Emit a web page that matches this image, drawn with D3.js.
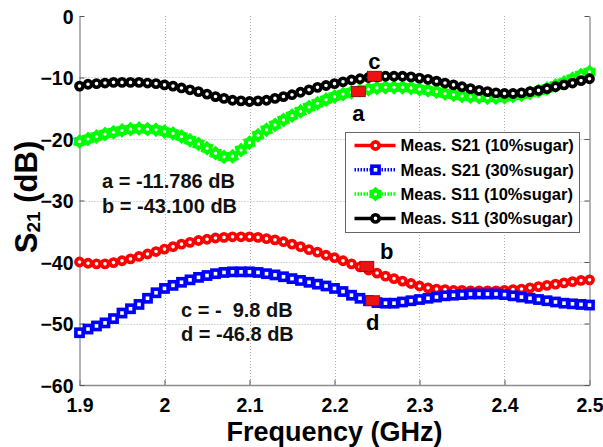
<!DOCTYPE html>
<html>
<head>
<meta charset="utf-8">
<script src="https://cdn.jsdelivr.net/npm/d3@7"></script>
<style>
  body { margin: 0; background: #fff; }
  text { font-family: Arial, "Liberation Sans", sans-serif; }
</style>
</head>
<body>
<svg id="chart" width="603" height="447"></svg>
<script>
// frequency points, GHz (step 0.01)
var freq = d3.range(61).map(function(i) { return +(1.9 + i * 0.01).toFixed(2); });

var s21_10 = [-40.0, -40.2, -40.3, -40.3, -40.1, -39.8, -39.5, -39.1, -38.7, -38.3,
  -37.9, -37.5, -37.1, -36.8, -36.5, -36.3, -36.1, -36.0, -35.9, -35.9,
  -35.9, -36.0, -36.2, -36.4, -36.7, -37.1, -37.5, -38.0, -38.4, -38.9,
  -39.3, -39.8, -40.3, -40.8, -41.3, -41.8, -42.3, -42.7, -43.1, -43.5,
  -43.9, -44.2, -44.4, -44.5, -44.6, -44.6, -44.7, -44.7, -44.7, -44.7,
  -44.6, -44.5, -44.4, -44.2, -44.0, -43.8, -43.6, -43.4, -43.2, -43.0, -42.9];

var s21_30 = [-51.5, -50.9, -50.4, -49.9, -49.2, -48.3, -47.6, -46.9, -45.9, -45.0,
  -44.3, -43.8, -43.3, -42.9, -42.5, -42.2, -41.9, -41.7, -41.6, -41.6,
  -41.6, -41.7, -41.9, -42.1, -42.4, -42.7, -43.0, -43.3, -43.6, -43.9,
  -44.3, -44.8, -45.4, -45.9, -46.3, -46.6, -46.7, -46.7, -46.5, -46.3,
  -46.1, -45.9, -45.7, -45.5, -45.4, -45.3, -45.2, -45.2, -45.2, -45.2,
  -45.3, -45.5, -45.7, -45.9, -46.1, -46.3, -46.5, -46.7, -46.8, -46.9, -47.0];

var s11_10 = [-20.4, -20.0, -19.6, -19.2, -18.9, -18.6, -18.4, -18.3, -18.4, -18.5,
  -18.8, -19.1, -19.6, -20.2, -20.8, -21.5, -22.3, -22.9, -22.8, -21.8,
  -20.6, -19.4, -18.5, -17.7, -16.9, -16.2, -15.5, -14.8, -14.2, -13.6,
  -13.1, -12.7, -12.4, -12.1, -11.9, -11.7, -11.6, -11.6, -11.6, -11.7,
  -11.9, -12.1, -12.3, -12.6, -12.8, -13.0, -13.1, -13.2, -13.3, -13.3,
  -13.2, -13.0, -12.8, -12.5, -12.2, -11.8, -11.3, -10.8, -10.2, -9.6, -9.1];

var s11_30 = [-11.4, -11.1, -11.0, -10.9, -10.8, -10.8, -10.8, -10.8, -10.9, -11.0,
  -11.2, -11.4, -11.7, -12.0, -12.3, -12.7, -13.1, -13.4, -13.7, -13.8,
  -13.9, -13.8, -13.7, -13.4, -13.1, -12.8, -12.4, -12.0, -11.6, -11.3,
  -11.0, -10.7, -10.4, -10.2, -10.0, -9.9, -9.8, -9.8, -9.8, -9.9,
  -10.1, -10.3, -10.6, -10.9, -11.2, -11.5, -11.8, -12.1, -12.3, -12.5,
  -12.6, -12.6, -12.5, -12.3, -12.1, -11.8, -11.5, -11.2, -10.9, -10.5, -10.2];

var seriesNames = ["Meas. S21 (10%sugar)", "Meas. S21 (30%sugar)", "Meas. S11 (10%sugar)", "Meas. S11 (30%sugar)"];
var seriesColors = ["#ff0000", "#0000ff", "#00ff00", "#000000"];
var seriesMarkers = ["circle", "square", "hexagram", "circle"];
var seriesDash = [null, "1.5,1.5", "1.5,1.5", null];

// data cursors
var cursorNames = ["a", "b", "c", "d"];
var cursorX = [2.228, 2.238, 2.247, 2.245];
var cursorY = [-12.3, -40.7, -9.8, -46.3];

var notes = ["a = -11.786 dB", "b = -43.100 dB", "c = -\u00a0\u00a09.8 dB", "d = -46.8 dB"];

var xTicks = [1.9, 2, 2.1, 2.2, 2.3, 2.4, 2.5];
var yTicks = [0, -10, -20, -30, -40, -50, -60];

var svg = d3.select("#chart");
var x = d3.scaleLinear().domain([1.9, 2.5]).range([79.5, 589.5]);
var y = d3.scaleLinear().domain([-60, 0]).range([385, 16]);

// grid
var grid = svg.append("g").attr("stroke", "#b0b0b0").attr("stroke-width", 1).attr("stroke-dasharray", "1,2");
grid.selectAll(".gx").data(xTicks.slice(1, -1)).enter().append("line")
  .attr("x1", function(d) { return Math.round(x(d)) + 0.5; })
  .attr("x2", function(d) { return Math.round(x(d)) + 0.5; })
  .attr("y1", y(0)).attr("y2", y(-60));
grid.selectAll(".gy").data(yTicks.slice(1, -1)).enter().append("line")
  .attr("y1", function(d) { return Math.round(y(d)) + 0.5; })
  .attr("y2", function(d) { return Math.round(y(d)) + 0.5; })
  .attr("x1", x(1.9)).attr("x2", x(2.5));

// axes
var xAxis = svg.append("g").attr("transform", "translate(0," + y(-60) + ")")
  .call(d3.axisBottom(x).tickValues(xTicks).tickSizeInner(-5).tickSizeOuter(0).tickPadding(13)
    .tickFormat(function(d) { return d3.format("")(d); }));
var yAxis = svg.append("g").attr("transform", "translate(" + x(1.9) + ",0)")
  .call(d3.axisLeft(y).tickValues(yTicks).tickSizeInner(-5).tickSizeOuter(0).tickPadding(6));
var yAxisR = svg.append("g").attr("transform", "translate(" + x(2.5) + ",0)")
  .call(d3.axisRight(y).tickValues(yTicks).tickSizeInner(-5).tickSizeOuter(0).tickFormat(""));
[xAxis, yAxis, yAxisR].forEach(function(a) {
  a.select(".domain").attr("stroke", "#8c8c8c").attr("stroke-width", 1.3);
  a.selectAll(".tick line").attr("stroke", "#555");
  a.selectAll("text").attr("fill", "#000").style("font-size", "19.5px").style("font-weight", "bold")
    .style("font-family", "Arial, 'Liberation Sans', sans-serif");
});
yAxis.selectAll("text").attr("dy", "0.36em");

// marker shapes
function hexagram(R, r) {
  var pts = [];
  for (var i = 0; i < 12; i++) {
    var a = Math.PI / 6 * i - Math.PI / 2;
    var rad = i % 2 ? r : R;
    pts.push([rad * Math.cos(a), rad * Math.sin(a)]);
  }
  return "M" + pts.join("L") + "Z";
}

function drawMarker(g, kind, color) {
  if (kind == "circle") {
    g.append("circle").attr("r", 3.6).attr("fill", "#fff").attr("stroke", color).attr("stroke-width", 3.6);
  } else if (kind == "square") {
    g.append("rect").attr("x", -3.6).attr("y", -3.6).attr("width", 7.2).attr("height", 7.2)
      .attr("fill", "#fff").attr("stroke", color).attr("stroke-width", 3.6);
  } else {
    g.append("path").attr("d", hexagram(6.6, 4.8)).attr("fill", color).attr("stroke", color).attr("stroke-width", 1.2);
    g.append("circle").attr("r", 1.6).attr("fill", "#fff");
  }
}

var allSeries = [s21_10, s21_30, s11_10, s11_30];
var line = d3.line().x(function(d, i) { return x(freq[i]); }).y(function(d) { return y(d); });

allSeries.forEach(function(vals, k) {
  var g = svg.append("g");
  g.append("path").datum(vals).attr("d", line).attr("fill", "none")
    .attr("stroke", seriesColors[k]).attr("stroke-width", 3)
    .attr("stroke-dasharray", seriesDash[k]);
  g.selectAll(".m").data(vals).enter().append("g")
    .attr("transform", function(d, i) { return "translate(" + x(freq[i]) + "," + y(d) + ")"; })
    .each(function() { drawMarker(d3.select(this), seriesMarkers[k], seriesColors[k]); });
});

// cursors
var cur = svg.append("g");
cursorNames.forEach(function(n, i) {
  var cx = x(cursorX[i]), cy = y(cursorY[i]);
  cur.append("rect").attr("x", cx - 7).attr("y", cy - 5).attr("width", 14).attr("height", 10)
    .attr("fill", "#ee1111").attr("stroke", "#8a0000").attr("stroke-width", 0.8);
  var dx = (n == "b") ? 20 : 0;
  var dy = (n == "c" || n == "b") ? -15 : 22;
  cur.append("text").attr("x", cx + dx).attr("y", cy + dy)
    .attr("text-anchor", "middle").attr("dominant-baseline", "central")
    .style("font-size", "22px").style("font-weight", "bold").text(n);
});

// annotation text
var noteX = [102, 102, 181, 181];
var noteY = [188, 213, 317, 341];
notes.forEach(function(t, i) {
  svg.append("text").attr("x", noteX[i]).attr("y", noteY[i])
    .style("font-size", "20px").style("font-weight", "bold").style("font-family", "Arial, 'Liberation Sans', sans-serif")
    .attr("fill", "#111").text(t);
});

// legend
var leg = svg.append("g").attr("transform", "translate(345.5,132.5)");
leg.append("rect").attr("width", 234).attr("height", 100).attr("fill", "#fff").attr("stroke", "#666").attr("stroke-width", 1);
seriesNames.forEach(function(name, k) {
  var ly = 13 + k * 24.3;
  var row = leg.append("g").attr("transform", "translate(0," + ly + ")");
  row.append("line").attr("x1", 9).attr("x2", 50).attr("y1", 0).attr("y2", 0)
    .attr("stroke", seriesColors[k]).attr("stroke-width", 3.5).attr("stroke-dasharray", seriesDash[k]);
  drawMarker(row.append("g").attr("transform", "translate(30,0)"), seriesMarkers[k], seriesColors[k]);
  row.append("text").attr("x", 55).attr("y", 0).attr("dy", "0.36em")
    .style("font-size", "16.5px").style("font-weight", "bold").text(name);
});

// axis titles
svg.append("text").attr("x", x(2.2)).attr("y", 441).attr("text-anchor", "middle")
  .style("font-size", "27px").style("font-weight", "bold").text("Frequency (GHz)");
var yl = svg.append("text").attr("transform", "translate(37,197) rotate(-90)").attr("text-anchor", "middle")
  .style("font-size", "31px").style("font-weight", "bold");
yl.append("tspan").text("S");
yl.append("tspan").style("font-size", "19px").attr("dy", 3).text("21");
yl.append("tspan").attr("dy", -3).text(" (dB)");
</script>
</body>
</html>
